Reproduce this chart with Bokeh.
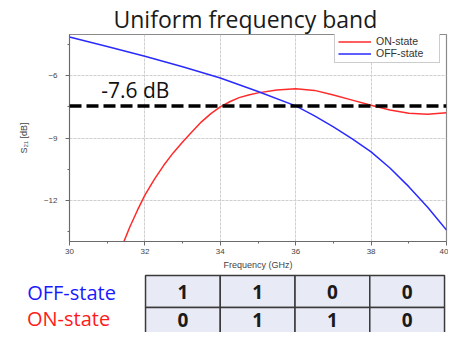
from bokeh.plotting import figure
from bokeh.layouts import column
from bokeh.models import Range1d, FixedTicker, Legend, LegendItem, Span, Label
from bokeh.core.properties import value
from bokeh.embed import file_html
from bokeh.resources import INLINE

# ---- data ----
off_freq = [30.0, 31.0, 32.0, 33.0, 34.0, 35.0, 36.0, 36.5, 37.0, 37.5, 38.0, 38.5, 39.0, 39.5, 40.0]
off_db = [-4.12, -4.58, -5.05, -5.56, -6.10, -6.75, -7.45, -7.93, -8.46, -9.04, -9.67, -10.45,
          -11.35, -12.35, -13.45]

on_freq = [31.40, 31.60, 31.80, 32.0, 32.25, 32.5, 32.75, 33.0, 33.25, 33.5, 33.75, 34.0, 34.25,
           34.5, 34.75, 35.0, 35.5, 36.0, 36.5, 37.0, 37.5, 38.0, 38.5, 39.0, 39.5, 40.0]
on_db = [-14.2, -13.3, -12.5, -11.76, -11.0, -10.32, -9.72, -9.19, -8.70, -8.22, -7.82, -7.50,
         -7.25, -7.05, -6.92, -6.82, -6.68, -6.62, -6.70, -6.92, -7.17, -7.42, -7.65, -7.80,
         -7.85, -7.78]

threshold_db = -7.45
threshold_label = "-7.6 dB"

x_ticks = [30, 32, 34, 36, 38, 40]
x_minor = [31, 33, 35, 37, 39]
y_ticks = [-12, -9, -6]
y_minor = [-13.5, -10.5, -7.5, -4.5]

states = ["OFF-state", "ON-state"]
state_colors = ["#1a1aff", "#ff1a1a"]
off_bits = [1, 1, 0, 0]
on_bits = [0, 1, 1, 0]

TICK_FONT = "Liberation Sans"
CAL_FONT = "Open Sans"

# ---- main chart ----
p = figure(width=448, height=272, x_range=Range1d(30, 40), y_range=Range1d(-14, -4),
           output_backend="svg", toolbar_location=None, frame_align=False,
           min_border_left=69, min_border_right=2, min_border_top=33, min_border_bottom=0)

p.title.text = "Uniform frequency band"
p.title.align = "left"
p.title.offset = 44
p.title.text_font = CAL_FONT
p.title.text_font_style = "normal"
p.title.text_font_size = "23px"
p.title.text_color = "#1a1a1a"
p.title.standoff = 0

p.outline_line_color = "#8a8a8a"
p.outline_line_width = 1.2

p.xaxis.ticker = FixedTicker(ticks=x_ticks, minor_ticks=x_minor)
p.yaxis.ticker = FixedTicker(ticks=y_ticks, minor_ticks=y_minor)
for ax in (p.xaxis, p.yaxis):
    ax.axis_line_color = "#6a6a6a"
    ax.major_tick_line_color = "#6a6a6a"
    ax.minor_tick_line_color = "#6a6a6a"
    ax.major_tick_in = 0
    ax.major_tick_out = 4
    ax.minor_tick_in = 0
    ax.minor_tick_out = 2
    ax.major_label_text_font = TICK_FONT
    ax.major_label_text_font_size = "8px"
    ax.major_label_text_color = "#444444"
    ax.axis_label_text_font = TICK_FONT
    ax.axis_label_text_font_size = "9px"
    ax.axis_label_text_font_style = "normal"
    ax.axis_label_text_color = "#444444"

p.xaxis.axis_label = "Frequency (GHz)"
p.xaxis.major_label_standoff = 3
p.xaxis.axis_label_standoff = 3
p.yaxis.axis_label = "S\u2082\u2081 [dB]"
p.yaxis.major_label_standoff = 8
p.yaxis.axis_label_standoff = 12

p.grid.grid_line_color = "#cfcfcf"
p.grid.grid_line_dash = "3 1"
p.xgrid.ticker = FixedTicker(ticks=x_ticks)
p.ygrid.ticker = FixedTicker(ticks=y_ticks)

r_on = p.line(on_freq, on_db, line_color="#ff2a2a", line_width=1.5)
r_off = p.line(off_freq, off_db, line_color="#2a2aff", line_width=1.5)

p.add_layout(Span(location=threshold_db, dimension="width", line_color="black",
                  line_width=3.5, line_dash="12 5"))
p.add_layout(Label(x=30.84, y=threshold_db, text=threshold_label, text_baseline="bottom",
                   y_offset=2, text_font=CAL_FONT, text_font_size="21px", text_color="#111111"))

legend = Legend(items=[LegendItem(label="ON-state", renderers=[r_on]),
                       LegendItem(label="OFF-state", renderers=[r_off])],
                location=(265, 178), label_text_font=TICK_FONT, label_text_font_size="10.5px",
                label_text_color="#333333", glyph_width=33, glyph_height=11, label_height=11,
                label_width=60, label_standoff=5, spacing=0, padding=3, margin=0,
                border_line_color="#999999", background_fill_alpha=1)
p.add_layout(legend)

# ---- state table ----
t = figure(width=448, height=60, x_range=Range1d(-1.940, 4.053), y_range=Range1d(1.781, -0.094),
           output_backend="svg", toolbar_location=None, min_border=0, frame_align=False)
t.axis.visible = False
t.grid.visible = False
t.outline_line_color = None

row_text_y = [0.5, 1.375]  # text placement inside each row (second row nudged up to stay visible)

lefts, rights, tops, bottoms, tx, ty, tv = [], [], [], [], [], [], []
for row, bits in enumerate([off_bits, on_bits]):
    for i, b in enumerate(bits):
        lefts.append(i); rights.append(i + 1)
        tops.append(row); bottoms.append(row + 1)
        tx.append(i + 0.5); ty.append(row_text_y[row]); tv.append(str(b))

t.quad(left=lefts, right=rights, top=tops, bottom=bottoms, fill_color="#e8eaf5",
       line_color="#3a3a3a", line_width=1.5)
t.text(x=tx, y=ty, text=tv, text_align="center", text_baseline="middle",
       text_font=value(CAL_FONT), text_font_style="bold", text_font_size="19px",
       text_color="#1a1a1a")
t.text(x=[-0.99, -1.03], y=[row_text_y[0] + 0.03, row_text_y[1] - 0.04], text=states,
       text_color=state_colors, text_align="center", text_baseline="middle",
       text_font=value(CAL_FONT), text_font_size="20px")

layout = column(p, t, spacing=0)
open("out.html", "w").write(file_html(layout, INLINE))
